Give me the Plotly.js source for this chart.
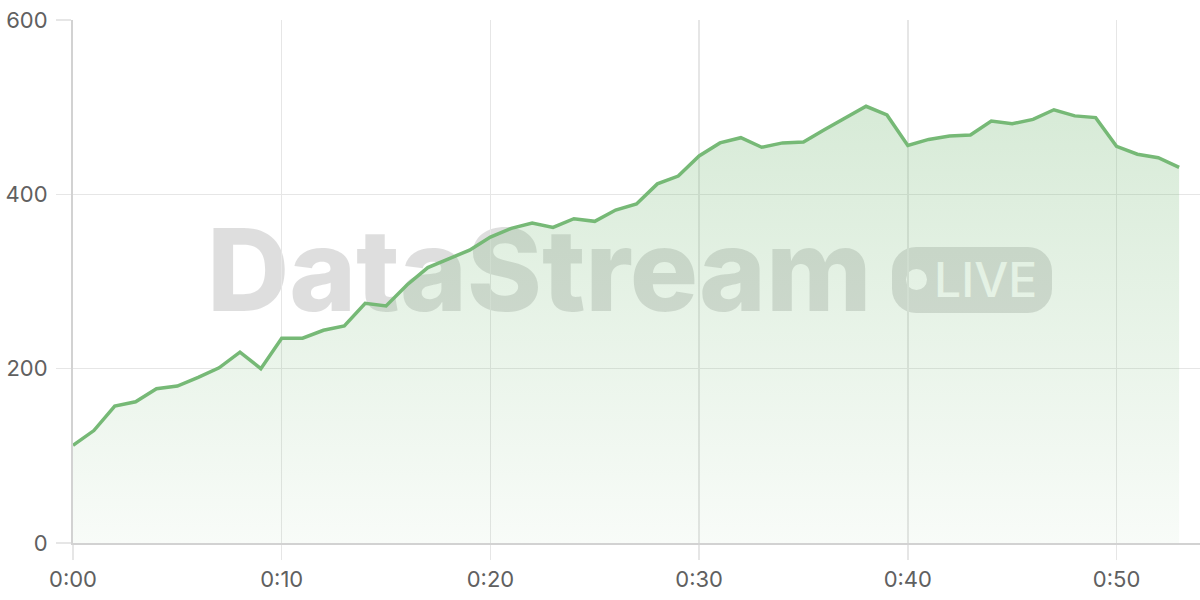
<!DOCTYPE html>
<html>
<head>
<meta charset="utf-8">
<script src="https://cdn.plot.ly/plotly-3.0.1.min.js"></script>
<style>
  html, body { margin: 0; padding: 0; background: #ffffff; }
  #wrap { position: relative; width: 1200px; height: 600px; overflow: hidden; }
  #wm { position: absolute; left: 0; top: 0; width: 1200px; height: 600px; z-index: 0; pointer-events: none; }
  #wm .name { position: absolute; left: 207px; top: 200px; font-family: Inter, "DejaVu Sans", sans-serif; font-weight: 800; font-size: 114px; line-height: 140px; color: rgba(0,0,0,0.13); letter-spacing: -0.2px; white-space: nowrap; }
  #wm .badge { position: absolute; left: 892px; top: 247px; width: 160px; height: 66px; border-radius: 24px; background: rgba(0,0,0,0.13); }
  #wm .dot { position: absolute; left: 14px; top: 22px; width: 21px; height: 21px; border-radius: 50%; background: #ffffff; }
  #wm .live { position: absolute; left: 42px; top: 4px; font-family: Inter, "DejaVu Sans", sans-serif; font-weight: 500; font-size: 48px; line-height: 58px; color: #ffffff; white-space: nowrap; }
  #chart { position: absolute; left: 0; top: 0; width: 1200px; height: 600px; z-index: 1; }
</style>
</head>
<body>
<div id="wrap">
  <div id="wm">
    <div class="name">DataStream</div>
    <div class="badge"><div class="dot"></div><div class="live">LIVE</div></div>
  </div>
  <div id="chart"></div>
</div>
<script>
// Minutes elapsed (0:00 .. 0:53)
const minutes = [0,1,2,3,4,5,6,7,8,9,10,11,12,13,14,15,16,17,18,19,20,21,22,23,24,25,26,27,28,29,30,31,32,33,34,35,36,37,38,39,40,41,42,43,44,45,46,47,48,49,50,51,52,53];
// Values
const values = [112,129,157,162,177,180,190,201,219,200,235,235,244,249,275,272,296,316,326,336,351,361,367,362,372,369,382,389,412,421,444,459,465,454,459,460,474,488,501,491,456,463,467,468,484,481,486,497,490,488,455,446,442,431];
// Axis ticks
const xTickVals = [0,10,20,30,40,50];
const xTickText = ['0:00','0:10','0:20','0:30','0:40','0:50'];
const yTickVals = [0,200,400,600];

const lineColor = 'rgb(118,185,118)';
const gridColor = '#e6e6e6';

const trace = {
  x: minutes,
  y: values,
  type: 'scatter',
  mode: 'lines',
  line: { color: lineColor, width: 3.5 },
  fill: 'tozeroy',
  fillgradient: {
    type: 'vertical',
    start: 0,
    stop: 600,
    colorscale: [[0, 'rgba(118,185,118,0.05)'], [1, 'rgba(118,185,118,0.34)']]
  },
  hoverinfo: 'skip'
};

const layout = {
  width: 1200,
  height: 600,
  margin: { l: 73, r: 0, t: 19.5, b: 56.5 },
  paper_bgcolor: 'rgba(0,0,0,0)',
  plot_bgcolor: 'rgba(0,0,0,0)',
  showlegend: false,
  font: { family: 'Inter, "Liberation Sans", sans-serif', size: 22, color: '#606060' },
  xaxis: {
    range: [0, 54],
    tickvals: xTickVals,
    ticktext: xTickText,
    showgrid: true,
    gridcolor: gridColor,
    gridwidth: 1.5,
    zeroline: false,
    showline: true,
    linecolor: '#d2d2d2',
    linewidth: 2,
    ticks: 'outside',
    ticklen: 15,
    tickwidth: 1.5,
    tickcolor: gridColor,
    ticklabelstandoff: 1,
    fixedrange: true
  },
  yaxis: {
    range: [0, 600],
    tickvals: yTickVals,
    showgrid: true,
    gridcolor: gridColor,
    gridwidth: 1.5,
    zeroline: false,
    showline: true,
    linecolor: '#d2d2d2',
    linewidth: 2,
    ticks: 'outside',
    ticklen: 15,
    tickwidth: 1.5,
    tickcolor: gridColor,
    ticklabelstandoff: 4,
    fixedrange: true
  }
};

Plotly.newPlot('chart', [trace], layout, { displayModeBar: false, staticPlot: true });
</script>
</body>
</html>
